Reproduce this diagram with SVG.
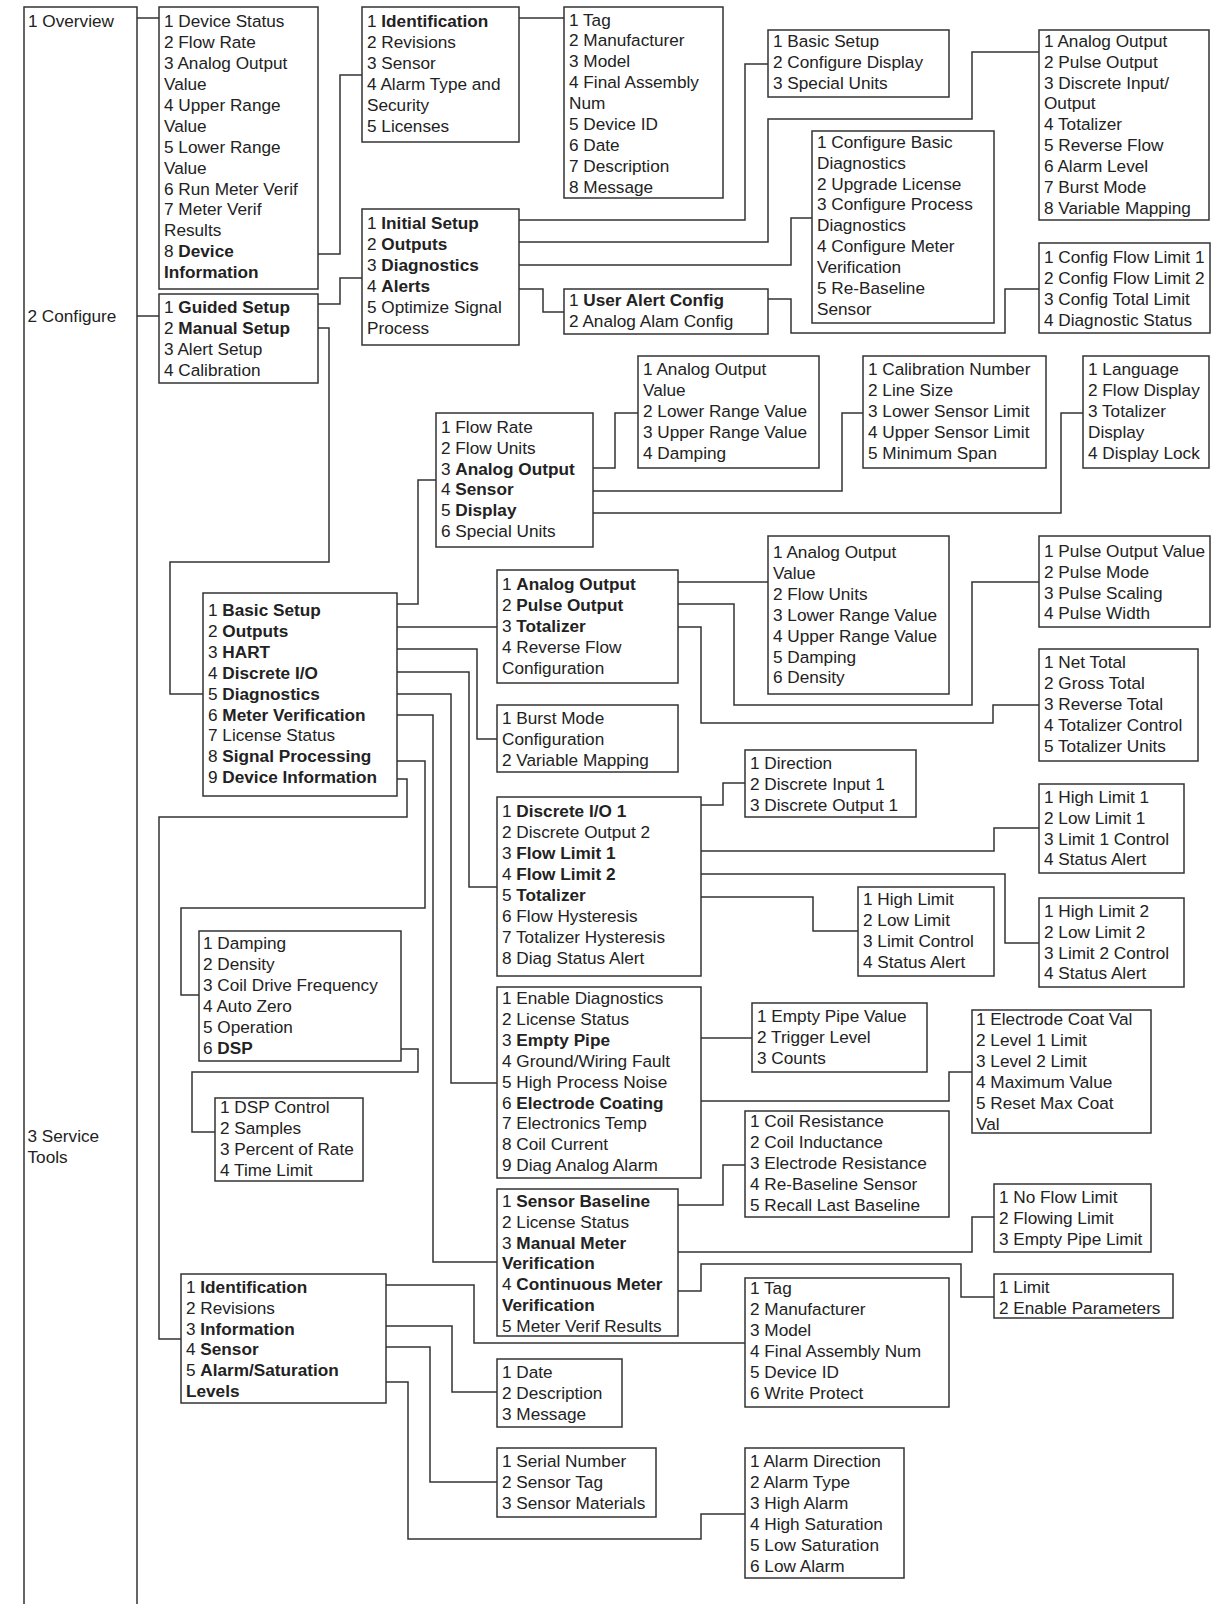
<svg xmlns="http://www.w3.org/2000/svg" width="1211" height="1604" viewBox="0 0 1211 1604">
<style>
.bx{fill:#fff;stroke:#333;stroke-width:1.5}
.t{font-family:"Liberation Sans",Arial,sans-serif;font-size:17.2px;fill:#222}
.bd{font-weight:bold}
.c polyline,.c path{fill:none;stroke:#333;stroke-width:1.5}
</style>
<rect width="1211" height="1604" fill="#fff"/>
<g class="c" id="connectors">
<polyline points="137,18 159,18"/>
<polyline points="137,316 159,316"/>
<polyline points="318,254 340,254 340,75 362,75"/>
<polyline points="519,18 564,18"/>
<polyline points="318,304 340,304 340,278 362,278"/>
<polyline points="519,220 745,220 745,64 768,64"/>
<polyline points="519,242 768,242 768,119 972,119 972,52 1039,52"/>
<polyline points="519,265 791,265 791,218 812,218"/>
<polyline points="519,289 543,289 543,312 564,312"/>
<polyline points="768,299 791,299 791,333 1005,333 1005,289 1039,289"/>
<polyline points="318,328 329,328 329,562 170,562 170,694 203,694"/>
<polyline points="397,604 418,604 418,480 436,480"/>
<polyline points="593,468 615,468 615,413 638,413"/>
<polyline points="593,491 842,491 842,413 863,413"/>
<polyline points="593,513 1061,513 1061,413 1083,413"/>
<polyline points="397,627 497,627"/>
<polyline points="678,582 768,582"/>
<polyline points="678,604 734,604 734,705 972,705 972,582 1039,582"/>
<polyline points="678,627 701,627 701,723 993,723 993,705 1039,705"/>
<polyline points="397,649 477,649 477,739 497,739"/>
<polyline points="397,672 469,672 469,887 497,887"/>
<polyline points="701,805 723,805 723,783 745,783"/>
<polyline points="701,851 994,851 994,828 1039,828"/>
<polyline points="701,874 1005,874 1005,943 1039,943"/>
<polyline points="701,897 813,897 813,931 858,931"/>
<polyline points="397,694 451,694 451,1083 497,1083"/>
<polyline points="701,1038 752,1038"/>
<polyline points="701,1101 949,1101 949,1072 972,1072"/>
<polyline points="397,715 433,715 433,1262 497,1262"/>
<polyline points="678,1205 723,1205 723,1165 745,1165"/>
<polyline points="678,1252 972,1252 972,1217 994,1217"/>
<polyline points="678,1291 701,1291 701,1264 961,1264 961,1297 994,1297"/>
<polyline points="397,761 425,761 425,908 181,908 181,995 199,995"/>
<polyline points="401,1049 418,1049 418,1072 192,1072 192,1132 215,1132"/>
<polyline points="397,779 407,779 407,817 159,817 159,1339 181,1339"/>
<polyline points="386,1285 474,1285 474,1343 745,1343"/>
<polyline points="386,1326 452,1326 452,1392 497,1392"/>
<polyline points="386,1347 430,1347 430,1482 497,1482"/>
<polyline points="386,1382 408,1382 408,1539 701,1539 701,1514 745,1514"/>
</g>
<g id="menu-root">
<path d="M24,1604 V7 H137 V1604" fill="none" stroke="#333" stroke-width="1.5"/>
<text class="t" x="28" y="27.3">1 Overview</text>
<text class="t" x="27.5" y="321.7">2 Configure</text>
<text class="t" x="27.5" y="1142.3">3 Service</text>
<text class="t" x="27.5" y="1162.7">Tools</text>
</g>
<g id="overview">
<rect class="bx" x="159" y="7" width="159" height="282"/>
<text class="t" x="164"><tspan x="164" y="27.3">1 Device Status</tspan><tspan x="164" y="48.2">2 Flow Rate</tspan><tspan x="164" y="69.1">3 Analog Output</tspan><tspan x="164" y="90">Value</tspan><tspan x="164" y="110.9">4 Upper Range</tspan><tspan x="164" y="131.8">Value</tspan><tspan x="164" y="152.7">5 Lower Range</tspan><tspan x="164" y="173.6">Value</tspan><tspan x="164" y="194.5">6 Run Meter Verif</tspan><tspan x="164" y="215.4">7 Meter Verif</tspan><tspan x="164" y="236.3">Results</tspan><tspan x="164" y="257.2">8 <tspan class="bd">Device</tspan></tspan><tspan x="164" y="278.1" class="bd">Information</tspan></text>
</g>
<g id="configure">
<rect class="bx" x="159" y="294" width="159" height="89"/>
<text class="t"><tspan x="164" y="313">1 <tspan class="bd">Guided Setup</tspan></tspan><tspan x="164" y="334">2 <tspan class="bd">Manual Setup</tspan></tspan><tspan x="164" y="355">3 Alert Setup</tspan><tspan x="164" y="376">4 Calibration</tspan></text>
</g>
<g id="identification">
<rect class="bx" x="362" y="7" width="157" height="135"/>
<text class="t"><tspan x="367" y="27.3">1 <tspan class="bd">Identification</tspan></tspan><tspan x="367" y="48.2">2 Revisions</tspan><tspan x="367" y="69.1">3 Sensor</tspan><tspan x="367" y="90">4 Alarm Type and</tspan><tspan x="367" y="110.9">Security</tspan><tspan x="367" y="131.8">5 Licenses</tspan></text>
</g>
<g id="tag1">
<rect class="bx" x="564" y="7" width="159" height="191"/>
<text class="t"><tspan x="569" y="25.5">1 Tag</tspan><tspan x="569" y="46.4">2 Manufacturer</tspan><tspan x="569" y="67.3">3 Model</tspan><tspan x="569" y="88.2">4 Final Assembly</tspan><tspan x="569" y="109.1">Num</tspan><tspan x="569" y="130">5 Device ID</tspan><tspan x="569" y="150.9">6 Date</tspan><tspan x="569" y="171.8">7 Description</tspan><tspan x="569" y="192.7">8 Message</tspan></text>
</g>
<g id="guided">
<rect class="bx" x="362" y="209" width="157" height="136"/>
<text class="t"><tspan x="367" y="229.3">1 <tspan class="bd">Initial Setup</tspan></tspan><tspan x="367" y="250.2">2 <tspan class="bd">Outputs</tspan></tspan><tspan x="367" y="271.1">3 <tspan class="bd">Diagnostics</tspan></tspan><tspan x="367" y="292">4 <tspan class="bd">Alerts</tspan></tspan><tspan x="367" y="312.9">5 Optimize Signal</tspan><tspan x="367" y="333.8">Process</tspan></text>
</g>
<g id="alerts">
<rect class="bx" x="564" y="289" width="204" height="45"/>
<text class="t"><tspan x="569" y="306">1 <tspan class="bd">User Alert Config</tspan></tspan><tspan x="569" y="327">2 Analog Alam Config</tspan></text>
</g>
<g id="initial-setup">
<rect class="bx" x="768" y="30" width="181" height="67"/>
<text class="t"><tspan x="773" y="47">1 Basic Setup</tspan><tspan x="773" y="68">2 Configure Display</tspan><tspan x="773" y="89">3 Special Units</tspan></text>
</g>
<g id="guided-diagnostics">
<rect class="bx" x="812" y="131" width="182" height="192"/>
<text class="t"><tspan x="817" y="147.7">1 Configure Basic</tspan><tspan x="817" y="168.6">Diagnostics</tspan><tspan x="817" y="189.5">2 Upgrade License</tspan><tspan x="817" y="210.4">3 Configure Process</tspan><tspan x="817" y="231.3">Diagnostics</tspan><tspan x="817" y="252.2">4 Configure Meter</tspan><tspan x="817" y="273.1">Verification</tspan><tspan x="817" y="294">5 Re-Baseline</tspan><tspan x="817" y="314.9">Sensor</tspan></text>
</g>
<g id="guided-outputs">
<rect class="bx" x="1039" y="30" width="170" height="190"/>
<text class="t"><tspan x="1044" y="46.7">1 Analog Output</tspan><tspan x="1044" y="67.6">2 Pulse Output</tspan><tspan x="1044" y="88.5">3 Discrete Input/</tspan><tspan x="1044" y="109.4">Output</tspan><tspan x="1044" y="130.3">4 Totalizer</tspan><tspan x="1044" y="151.2">5 Reverse Flow</tspan><tspan x="1044" y="172.1">6 Alarm Level</tspan><tspan x="1044" y="193">7 Burst Mode</tspan><tspan x="1044" y="213.9">8 Variable Mapping</tspan></text>
</g>
<g id="user-alert">
<rect class="bx" x="1039" y="243" width="171" height="90"/>
<text class="t"><tspan x="1044" y="263.3">1 Config Flow Limit 1</tspan><tspan x="1044" y="284.2">2 Config Flow Limit 2</tspan><tspan x="1044" y="305.1">3 Config Total Limit</tspan><tspan x="1044" y="326">4 Diagnostic Status</tspan></text>
</g>
<g id="ms-analog-output">
<rect class="bx" x="638" y="356" width="181" height="112"/>
<text class="t"><tspan x="643" y="375">1 Analog Output</tspan><tspan x="643" y="395.9">Value</tspan><tspan x="643" y="416.8">2 Lower Range Value</tspan><tspan x="643" y="437.7">3 Upper Range Value</tspan><tspan x="643" y="458.6">4 Damping</tspan></text>
</g>
<g id="ms-sensor">
<rect class="bx" x="863" y="356" width="183" height="112"/>
<text class="t"><tspan x="868" y="375">1 Calibration Number</tspan><tspan x="868" y="395.9">2 Line Size</tspan><tspan x="868" y="416.8">3 Lower Sensor Limit</tspan><tspan x="868" y="437.7">4 Upper Sensor Limit</tspan><tspan x="868" y="458.6">5 Minimum Span</tspan></text>
</g>
<g id="ms-display">
<rect class="bx" x="1083" y="356" width="126" height="112"/>
<text class="t"><tspan x="1088" y="375">1 Language</tspan><tspan x="1088" y="395.9">2 Flow Display</tspan><tspan x="1088" y="416.8">3 Totalizer</tspan><tspan x="1088" y="437.7">Display</tspan><tspan x="1088" y="458.6">4 Display Lock</tspan></text>
</g>
<g id="ms-basic">
<rect class="bx" x="436" y="413" width="157" height="134"/>
<text class="t"><tspan x="441" y="432.7">1 Flow Rate</tspan><tspan x="441" y="453.6">2 Flow Units</tspan><tspan x="441" y="474.5">3 <tspan class="bd">Analog Output</tspan></tspan><tspan x="441" y="495.4">4 <tspan class="bd">Sensor</tspan></tspan><tspan x="441" y="516.3">5 <tspan class="bd">Display</tspan></tspan><tspan x="441" y="537.2">6 Special Units</tspan></text>
</g>
<g id="manual-setup">
<rect class="bx" x="203" y="593" width="194" height="203"/>
<text class="t"><tspan x="208" y="616">1 <tspan class="bd">Basic Setup</tspan></tspan><tspan x="208" y="636.9">2 <tspan class="bd">Outputs</tspan></tspan><tspan x="208" y="657.8">3 <tspan class="bd">HART</tspan></tspan><tspan x="208" y="678.7">4 <tspan class="bd">Discrete I/O</tspan></tspan><tspan x="208" y="699.6">5 <tspan class="bd">Diagnostics</tspan></tspan><tspan x="208" y="720.5">6 <tspan class="bd">Meter Verification</tspan></tspan><tspan x="208" y="741.4">7 License Status</tspan><tspan x="208" y="762.3">8 <tspan class="bd">Signal Processing</tspan></tspan><tspan x="208" y="783.2">9 <tspan class="bd">Device Information</tspan></tspan></text>
</g>
<g id="ms-outputs">
<rect class="bx" x="497" y="570" width="181" height="113"/>
<text class="t"><tspan x="502" y="590">1 <tspan class="bd">Analog Output</tspan></tspan><tspan x="502" y="610.9">2 <tspan class="bd">Pulse Output</tspan></tspan><tspan x="502" y="631.8">3 <tspan class="bd">Totalizer</tspan></tspan><tspan x="502" y="652.7">4 Reverse Flow</tspan><tspan x="502" y="673.6">Configuration</tspan></text>
</g>
<g id="out-analog">
<rect class="bx" x="768" y="536" width="181" height="158"/>
<text class="t"><tspan x="773" y="558">1 Analog Output</tspan><tspan x="773" y="578.9">Value</tspan><tspan x="773" y="599.8">2 Flow Units</tspan><tspan x="773" y="620.7">3 Lower Range Value</tspan><tspan x="773" y="641.6">4 Upper Range Value</tspan><tspan x="773" y="662.5">5 Damping</tspan><tspan x="773" y="683.4">6 Density</tspan></text>
</g>
<g id="out-pulse">
<rect class="bx" x="1039" y="536" width="171" height="91"/>
<text class="t"><tspan x="1044" y="556.7">1 Pulse Output Value</tspan><tspan x="1044" y="577.6">2 Pulse Mode</tspan><tspan x="1044" y="598.5">3 Pulse Scaling</tspan><tspan x="1044" y="619.4">4 Pulse Width</tspan></text>
</g>
<g id="out-totalizer">
<rect class="bx" x="1039" y="649" width="159" height="112"/>
<text class="t"><tspan x="1044" y="668.3">1 Net Total</tspan><tspan x="1044" y="689.2">2 Gross Total</tspan><tspan x="1044" y="710.1">3 Reverse Total</tspan><tspan x="1044" y="731">4 Totalizer Control</tspan><tspan x="1044" y="751.9">5 Totalizer Units</tspan></text>
</g>
<g id="ms-hart">
<rect class="bx" x="497" y="705" width="181" height="67"/>
<text class="t"><tspan x="502" y="724">1 Burst Mode</tspan><tspan x="502" y="744.9">Configuration</tspan><tspan x="502" y="765.8">2 Variable Mapping</tspan></text>
</g>
<g id="dio-1">
<rect class="bx" x="745" y="750" width="171" height="67"/>
<text class="t"><tspan x="750" y="769.3">1 Direction</tspan><tspan x="750" y="790.2">2 Discrete Input 1</tspan><tspan x="750" y="811.1">3 Discrete Output 1</tspan></text>
</g>
<g id="ms-discrete">
<rect class="bx" x="497" y="797" width="204" height="179"/>
<text class="t"><tspan x="502" y="817.3">1 <tspan class="bd">Discrete I/O 1</tspan></tspan><tspan x="502" y="838.2">2 Discrete Output 2</tspan><tspan x="502" y="859.1">3 <tspan class="bd">Flow Limit 1</tspan></tspan><tspan x="502" y="880">4 <tspan class="bd">Flow Limit 2</tspan></tspan><tspan x="502" y="900.9">5 <tspan class="bd">Totalizer</tspan></tspan><tspan x="502" y="921.8">6 Flow Hysteresis</tspan><tspan x="502" y="942.7">7 Totalizer Hysteresis</tspan><tspan x="502" y="963.6">8 Diag Status Alert</tspan></text>
</g>
<g id="flow-limit-1">
<rect class="bx" x="1039" y="784" width="145" height="89"/>
<text class="t"><tspan x="1044" y="802.7">1 High Limit 1</tspan><tspan x="1044" y="823.6">2 Low Limit 1</tspan><tspan x="1044" y="844.5">3 Limit 1 Control</tspan><tspan x="1044" y="865.4">4 Status Alert</tspan></text>
</g>
<g id="flow-limit-2">
<rect class="bx" x="1039" y="898" width="145" height="89"/>
<text class="t"><tspan x="1044" y="916.7">1 High Limit 2</tspan><tspan x="1044" y="937.6">2 Low Limit 2</tspan><tspan x="1044" y="958.5">3 Limit 2 Control</tspan><tspan x="1044" y="979.4">4 Status Alert</tspan></text>
</g>
<g id="total-limit">
<rect class="bx" x="858" y="887" width="136" height="89"/>
<text class="t"><tspan x="863" y="905">1 High Limit</tspan><tspan x="863" y="925.9">2 Low Limit</tspan><tspan x="863" y="946.8">3 Limit Control</tspan><tspan x="863" y="967.7">4 Status Alert</tspan></text>
</g>
<g id="ms-diagnostics">
<rect class="bx" x="497" y="987" width="204" height="191"/>
<text class="t"><tspan x="502" y="1004">1 Enable Diagnostics</tspan><tspan x="502" y="1024.9">2 License Status</tspan><tspan x="502" y="1045.8">3 <tspan class="bd">Empty Pipe</tspan></tspan><tspan x="502" y="1066.7">4 Ground/Wiring Fault</tspan><tspan x="502" y="1087.6">5 High Process Noise</tspan><tspan x="502" y="1108.5">6 <tspan class="bd">Electrode Coating</tspan></tspan><tspan x="502" y="1129.4">7 Electronics Temp</tspan><tspan x="502" y="1150.3">8 Coil Current</tspan><tspan x="502" y="1171.2">9 Diag Analog Alarm</tspan></text>
</g>
<g id="empty-pipe">
<rect class="bx" x="752" y="1003" width="175" height="69"/>
<text class="t"><tspan x="757" y="1021.7">1 Empty Pipe Value</tspan><tspan x="757" y="1042.6">2 Trigger Level</tspan><tspan x="757" y="1063.5">3 Counts</tspan></text>
</g>
<g id="electrode-coating">
<rect class="bx" x="972" y="1010" width="179" height="123"/>
<text class="t"><tspan x="976" y="1025">1 Electrode Coat Val</tspan><tspan x="976" y="1045.9">2 Level 1 Limit</tspan><tspan x="976" y="1066.8">3 Level 2 Limit</tspan><tspan x="976" y="1087.7">4 Maximum Value</tspan><tspan x="976" y="1108.6">5 Reset Max Coat</tspan><tspan x="976" y="1129.5">Val</tspan></text>
</g>
<g id="ms-signal">
<rect class="bx" x="199" y="931" width="202" height="130"/>
<text class="t"><tspan x="203" y="949">1 Damping</tspan><tspan x="203" y="969.9">2 Density</tspan><tspan x="203" y="990.8">3 Coil Drive Frequency</tspan><tspan x="203" y="1011.7">4 Auto Zero</tspan><tspan x="203" y="1032.6">5 Operation</tspan><tspan x="203" y="1053.5">6 <tspan class="bd">DSP</tspan></tspan></text>
</g>
<g id="dsp">
<rect class="bx" x="215" y="1098" width="148" height="83"/>
<text class="t"><tspan x="220" y="1113.3">1 DSP Control</tspan><tspan x="220" y="1134.2">2 Samples</tspan><tspan x="220" y="1155.1">3 Percent of Rate</tspan><tspan x="220" y="1176">4 Time Limit</tspan></text>
</g>
<g id="sensor-baseline">
<rect class="bx" x="745" y="1111" width="204" height="106"/>
<text class="t"><tspan x="750" y="1127.3">1 Coil Resistance</tspan><tspan x="750" y="1148.2">2 Coil Inductance</tspan><tspan x="750" y="1169.1">3 Electrode Resistance</tspan><tspan x="750" y="1190">4 Re-Baseline Sensor</tspan><tspan x="750" y="1210.9">5 Recall Last Baseline</tspan></text>
</g>
<g id="ms-meter-verification">
<rect class="bx" x="497" y="1189" width="181" height="147"/>
<text class="t"><tspan x="502" y="1206.7">1 <tspan class="bd">Sensor Baseline</tspan></tspan><tspan x="502" y="1227.6">2 License Status</tspan><tspan x="502" y="1248.5">3 <tspan class="bd">Manual Meter</tspan></tspan><tspan x="502" y="1269.4" class="bd">Verification</tspan><tspan x="502" y="1290.3">4 <tspan class="bd">Continuous Meter</tspan></tspan><tspan x="502" y="1311.2" class="bd">Verification</tspan><tspan x="502" y="1332.1">5 Meter Verif Results</tspan></text>
</g>
<g id="manual-mv">
<rect class="bx" x="994" y="1184" width="157" height="68"/>
<text class="t"><tspan x="999" y="1202.7">1 No Flow Limit</tspan><tspan x="999" y="1223.6">2 Flowing Limit</tspan><tspan x="999" y="1244.5">3 Empty Pipe Limit</tspan></text>
</g>
<g id="continuous-mv">
<rect class="bx" x="994" y="1274" width="179" height="44"/>
<text class="t"><tspan x="999" y="1292.7">1 Limit</tspan><tspan x="999" y="1313.6">2 Enable Parameters</tspan></text>
</g>
<g id="ms-device-info">
<rect class="bx" x="181" y="1274" width="205" height="129"/>
<text class="t"><tspan x="186" y="1292.7">1 <tspan class="bd">Identification</tspan></tspan><tspan x="186" y="1313.6">2 Revisions</tspan><tspan x="186" y="1334.5">3 <tspan class="bd">Information</tspan></tspan><tspan x="186" y="1355.4">4 <tspan class="bd">Sensor</tspan></tspan><tspan x="186" y="1376.3">5 <tspan class="bd">Alarm/Saturation</tspan></tspan><tspan x="186" y="1397.2" class="bd">Levels</tspan></text>
</g>
<g id="di-identification">
<rect class="bx" x="745" y="1278" width="204" height="129"/>
<text class="t"><tspan x="750" y="1294.3">1 Tag</tspan><tspan x="750" y="1315.2">2 Manufacturer</tspan><tspan x="750" y="1336.1">3 Model</tspan><tspan x="750" y="1357">4 Final Assembly Num</tspan><tspan x="750" y="1377.9">5 Device ID</tspan><tspan x="750" y="1398.8">6 Write Protect</tspan></text>
</g>
<g id="di-information">
<rect class="bx" x="497" y="1359" width="125" height="68"/>
<text class="t"><tspan x="502" y="1377.7">1 Date</tspan><tspan x="502" y="1398.6">2 Description</tspan><tspan x="502" y="1419.5">3 Message</tspan></text>
</g>
<g id="di-sensor">
<rect class="bx" x="497" y="1448" width="159" height="69"/>
<text class="t"><tspan x="502" y="1467.3">1 Serial Number</tspan><tspan x="502" y="1488.2">2 Sensor Tag</tspan><tspan x="502" y="1509.1">3 Sensor Materials</tspan></text>
</g>
<g id="di-alarm">
<rect class="bx" x="745" y="1448" width="159" height="130"/>
<text class="t"><tspan x="750" y="1467.3">1 Alarm Direction</tspan><tspan x="750" y="1488.2">2 Alarm Type</tspan><tspan x="750" y="1509.1">3 High Alarm</tspan><tspan x="750" y="1530">4 High Saturation</tspan><tspan x="750" y="1550.9">5 Low Saturation</tspan><tspan x="750" y="1571.8">6 Low Alarm</tspan></text>
</g>
</svg>
